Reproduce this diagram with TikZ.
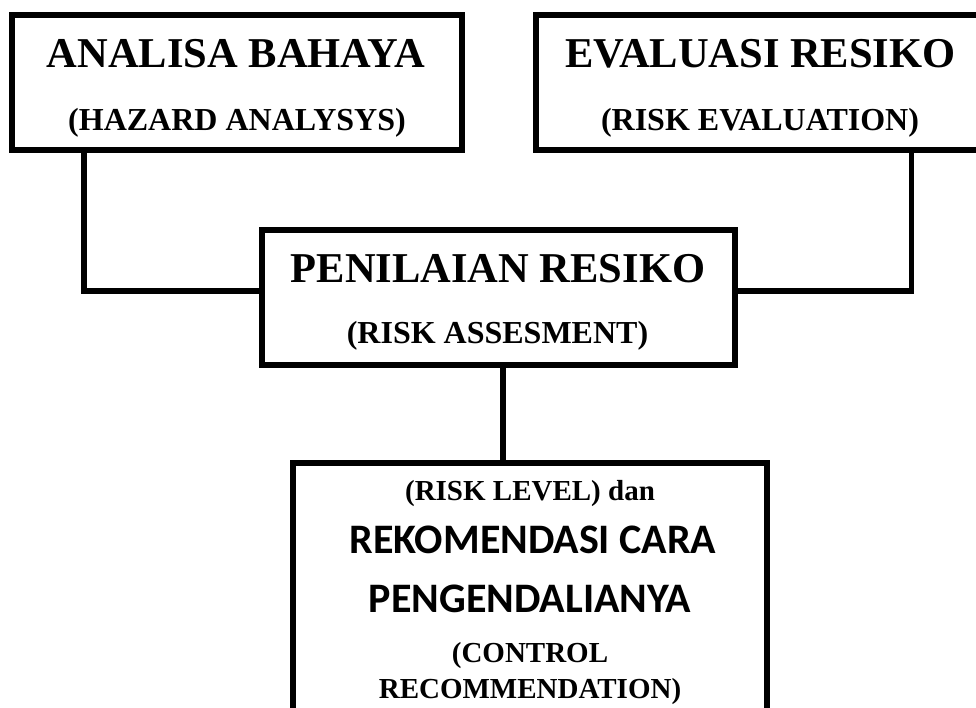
\documentclass[tikz,border=0pt]{standalone}
\usepackage{fontspec}
\setmainfont{Liberation Serif}
\newfontfamily\calibfont{Carlito}
\usetikzlibrary{calc, positioning}

\begin{document}
\begin{tikzpicture}[x=1pt, y=-1pt,
  box/.style={draw, line width=6pt, outer sep=0pt, inner sep=0pt},
  link/.style={line width=5.5pt},
  title/.style={anchor=base, inner sep=0pt, font=\bfseries\fontsize{42.5}{50}\selectfont},
  sub/.style={anchor=base, inner sep=0pt, font=\bfseries\fontsize{32}{38}\selectfont},
  note/.style={anchor=base, inner sep=0pt, font=\bfseries\fontsize{29}{34}\selectfont},
  calib/.style={anchor=base, inner sep=0pt, font=\calibfont\bfseries\fontsize{42}{50}\selectfont}]
\useasboundingbox (0,0) rectangle (976,707);
\clip (0,0) rectangle (976,707);
% boxes
\node[box, minimum width=449.8pt, minimum height=135.5pt] (hazard) at (236.6,82.25) {};
\node[box, minimum width=450pt, minimum height=135.5pt] (evaluation) at (760.5,82.25) {};
\node[box, minimum width=473.2pt, minimum height=135pt] (assessment) at (498.1,297) {};
\node[box, minimum width=474pt, minimum height=297pt] (control) at (530,611.5) {};
% connectors
\draw[link] ([xshift=72.3pt]hazard.south west) |- ([yshift=6pt]assessment.west);
\draw[link] ([xshift=-74pt]evaluation.south east) |- ([yshift=6pt]assessment.east);
\draw[link] ([xshift=5pt]assessment.south) -- ([xshift=5pt]assessment.south |- control.north);
% texts
\node[title] (hazard1) at (236,67) {ANALISA BAHAYA};
\node[sub] (hazard2) at (237,130) {(HAZARD ANALYSYS)};
\node[title] (evaluation1) at (760.5,67) {EVALUASI RESIKO};
\node[sub] (evaluation2) at (760,130) {(RISK EVALUATION)};
\node[title] (assessment1) at (498,282) {PENILAIAN RESIKO};
\node[sub] (assessment2) at (497.5,343) {(RISK ASSESMENT)};
\node[note] (control1) at (530,500) {(RISK LEVEL) dan};
\node[calib] (control2) at (533,553) {REKOMENDASI CARA};
\node[calib] (control3) at (530,612) {PENGENDALIANYA};
\node[note] (control4) at (530,662) {(CONTROL};
\node[note] (control5) at (530,698) {RECOMMENDATION)};
\end{tikzpicture}
\end{document}
